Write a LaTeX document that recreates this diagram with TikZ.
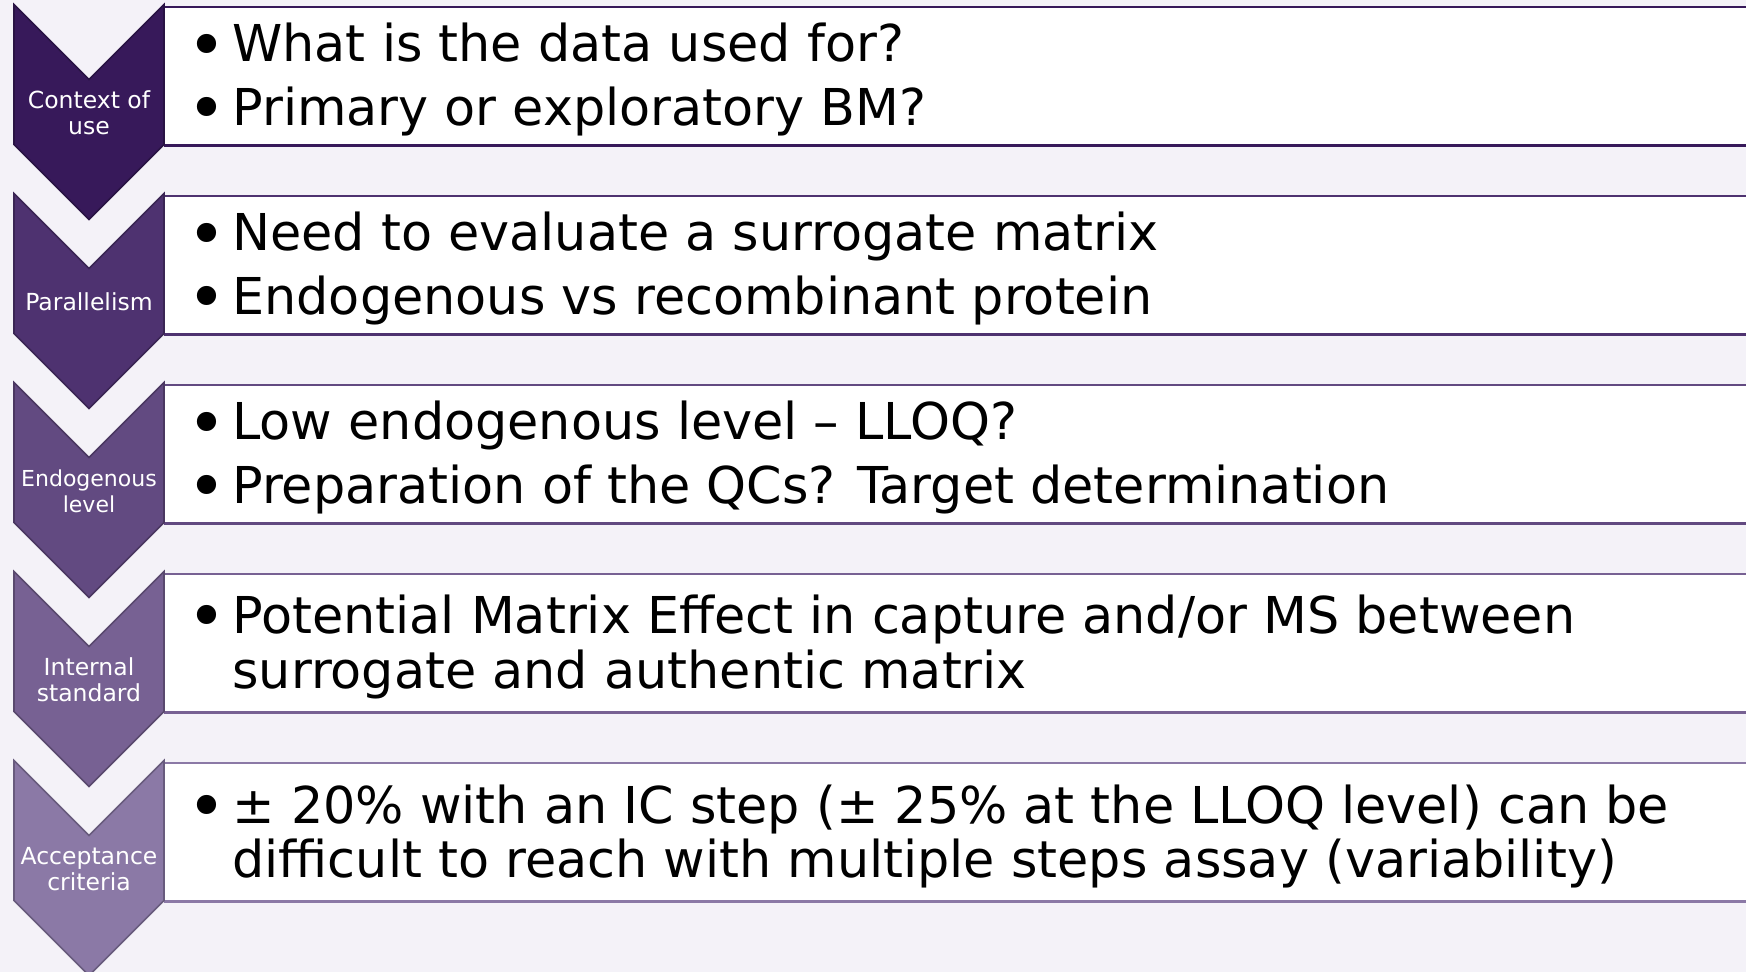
\documentclass[tikz,border=0pt]{standalone}
\usepackage{graphicx}
\usepackage{fontspec}
\setmainfont{DejaVu Sans}

% step colours, darkest first
\definecolor{pagebg}{HTML}{F4F2F8}
\definecolor{stepA}{HTML}{37195A}
\definecolor{stepB}{HTML}{4E3270}
\definecolor{stepC}{HTML}{624A81}
\definecolor{stepD}{HTML}{776193}
\definecolor{stepE}{HTML}{8B79A6}

% enlarged bullet in a fixed-width column
\newcommand\bul{\makebox[19.5pt][l]{\hspace*{-3.2pt}\raisebox{-3.2pt}{\scalebox{1.3}{•}}}}

\tikzset{
  chevshape/.style={fill=#1, draw=#1!75!black, line width=0.8pt, line join=miter},
  boxline/.style={draw=#1, line width=1.25pt},
  steplabel/.style={text=white, inner sep=0pt, anchor=base,
    font=\fontsize{11.75}{13}\selectfont},
  bodytext/.style={text=black, inner sep=0pt, anchor=base west,
    font=\fontsize{25.4}{27.25}\selectfont},
}

\begin{document}
\begin{tikzpicture}[x=0.5pt, y=-0.5pt]
  % page
  \fill[pagebg] (0,0) rectangle (1746,972);
  \useasboundingbox (0,0) rectangle (1746,972);
  \clip (0,0) rectangle (1746,972);

  % one chevron and one text band per step; \T is the top of the step
  \foreach \T/\c in {4.5/stepA, 193.5/stepB, 382.5/stepC, 571.5/stepD, 760.5/stepE}{
    \fill[white] (164,\T+2.5) rectangle (1760,\T+141);
    \draw[boxline=\c] (164,\T+2.5) -- (1760,\T+2.5) (164,\T+141) -- (1760,\T+141);
    \draw[chevshape=\c] (14,\T) -- (89,\T+75) -- (164,\T) -- (164,\T+140)
      -- (89,\T+215) -- (14,\T+140) -- cycle;
  }

  % step names
  \node[steplabel] (lab1) at (89,4.5+104)
    {\begin{tabular}[t]{@{}c@{}}Context of\\use\end{tabular}};
  \node[steplabel] (lab2) at (89,193.5+117)
    {\begin{tabular}[t]{@{}c@{}}Parallelism\end{tabular}};
  \node[steplabel, font=\fontsize{11}{13}\selectfont] (lab3) at (89,382.5+104)
    {\begin{tabular}[t]{@{}c@{}}Endogenous\\level\end{tabular}};
  \node[steplabel] (lab4) at (89,571.5+104)
    {\begin{tabular}[t]{@{}c@{}}Internal\\standard\end{tabular}};
  \node[steplabel] (lab5) at (89,760.5+104)
    {\begin{tabular}[t]{@{}c@{}}Acceptance\\criteria\end{tabular}};

  % bullet text of each step
  \node[bodytext] (txt1) at (193,4.5+57.5)
    {\begin{tabular}[t]{@{}l@{}l@{}}
      \bul & What is the data used for?\\[4.25pt]
      \bul & Primary or exploratory BM?
    \end{tabular}};
  \node[bodytext] (txt2) at (193,193.5+57.5)
    {\begin{tabular}[t]{@{}l@{}l@{}}
      \bul & Need to evaluate a surrogate matrix\\[4.25pt]
      \bul & Endogenous vs recombinant protein
    \end{tabular}};
  \node[bodytext] (txt3) at (193,382.5+57.5)
    {\begin{tabular}[t]{@{}l@{}l@{}}
      \bul & Low endogenous level – LLOQ?\\[4.25pt]
      \bul & Preparation of the QCs? Target determination
    \end{tabular}};
  \node[bodytext] (txt4) at (193,571.5+62)
    {\begin{tabular}[t]{@{}l@{}l@{}}
      \bul & Potential Matrix Effect in capture and/or MS between\\
           & surrogate and authentic matrix
    \end{tabular}};
  \node[bodytext] (txt5) at (193,760.5+62.5)
    {\begin{tabular}[t]{@{}l@{}l@{}}
      \bul & ± 20\% with an IC step (± 25\% at the LLOQ level) can be\\
           & difficult to reach with multiple steps assay (variability)
    \end{tabular}};
\end{tikzpicture}
\end{document}
